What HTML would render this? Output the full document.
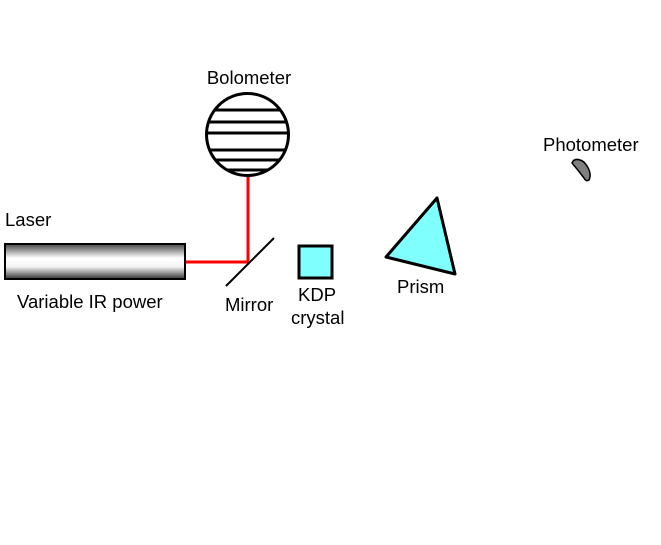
<!DOCTYPE html>
<html><head><style>
body{margin:0;background:#fff;}
svg text{font-family:"Liberation Sans",Arial,sans-serif;font-size:18.5px;fill:#000;}
</style></head><body>
<svg width="661" height="540" xmlns="http://www.w3.org/2000/svg">
<defs>
<linearGradient id="g" x1="0" y1="0" x2="0" y2="1">
<stop offset="0" stop-color="#444"/>
<stop offset="0.4" stop-color="#fff"/>
<stop offset="0.65" stop-color="#f4f4f4"/>
<stop offset="1" stop-color="#333"/>
</linearGradient>
<clipPath id="c"><circle cx="247.5" cy="134.5" r="41"/></clipPath>
</defs>
<text x="249" y="84" text-anchor="middle">Bolometer</text>
<circle cx="247.5" cy="134.5" r="41" fill="#fff" stroke="#000" stroke-width="3"/>
<g clip-path="url(#c)" stroke="#000" stroke-width="3">
<line x1="200" y1="110" x2="300" y2="110"/>
<line x1="200" y1="122" x2="300" y2="122"/>
<line x1="200" y1="133" x2="300" y2="133"/>
<line x1="200" y1="150" x2="300" y2="150"/>
<line x1="200" y1="160" x2="300" y2="160"/>
<line x1="200" y1="170" x2="300" y2="170"/>
</g>
<polyline points="185,262 248,262 248,177" fill="none" stroke="#f00" stroke-width="3"/>
<line x1="226" y1="286" x2="274" y2="238" stroke="#000" stroke-width="2"/>
<text x="5" y="226">Laser</text>
<rect x="5" y="244" width="180" height="35" fill="url(#g)" stroke="#000" stroke-width="2"/>
<text x="17" y="308">Variable IR power</text>
<text x="225" y="311">Mirror</text>
<text x="298" y="301">KDP</text>
<text x="291" y="324">crystal</text>
<rect x="299" y="246" width="33" height="32" fill="#80ffff" stroke="#000" stroke-width="3"/>
<polygon points="386,257 437,198 455,274" fill="#80ffff" stroke="#000" stroke-width="3" stroke-linejoin="round"/>
<text x="397" y="293">Prism</text>
<text x="543" y="151">Photometer</text>
<path d="M572,163 Q574,158 580,160 Q584,161 587,166 Q592,174 589,180 Q586,182 584,178 Q578,170 572,163 Z" fill="#808080" stroke="#000" stroke-width="1.5"/>
</svg>
</body></html>
